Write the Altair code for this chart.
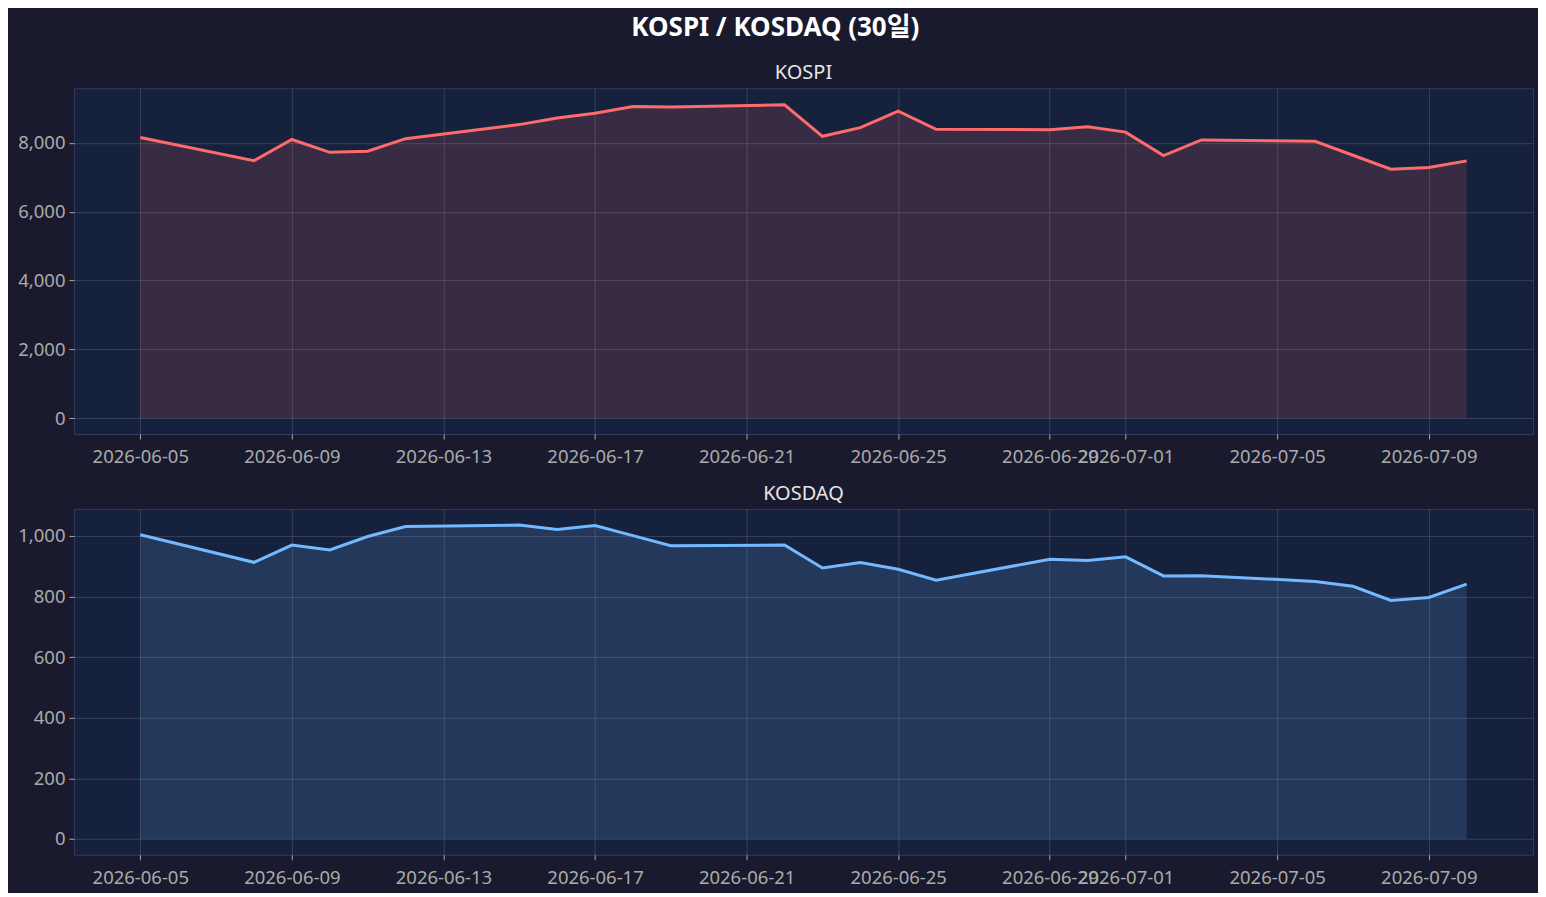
import altair as alt
import pandas as pd

dates = [
    "2026-06-05", "2026-06-08", "2026-06-09", "2026-06-10", "2026-06-11", "2026-06-12",
    "2026-06-15", "2026-06-16", "2026-06-17", "2026-06-18", "2026-06-19",
    "2026-06-22", "2026-06-23", "2026-06-24", "2026-06-25", "2026-06-26",
    "2026-06-29", "2026-06-30", "2026-07-01", "2026-07-02", "2026-07-03",
    "2026-07-06", "2026-07-07", "2026-07-08", "2026-07-09", "2026-07-10",
]
kospi = [
    8160, 7485, 8100, 7728, 7758, 8125,
    8533, 8727, 8863, 9060, 9047,
    9110, 8193, 8445, 8925, 8395,
    8387, 8470, 8315, 7633, 8087,
    8049, 7642, 7238, 7284, 7479,
]
kosdaq = [
    1004, 913, 970, 954, 998, 1031,
    1036, 1021, 1034, 1001, 968,
    970, 894, 912, 890, 854,
    923, 919, 931, 868, 869,
    850, 834, 787, 797, 841,
]
tick_days = [(6, 5), (6, 9), (6, 13), (6, 17), (6, 21), (6, 25), (6, 29), (7, 1), (7, 5), (7, 9)]
kospi_ticks = [0, 2000, 4000, 6000, 8000]
kosdaq_ticks = [0, 200, 400, 600, 800, 1000]

df = pd.DataFrame({"date": dates, "KOSPI": kospi, "KOSDAQ": kosdaq})

FONT = "'Noto Sans', 'Noto Sans CJK KR', sans-serif"
xdom = [
    alt.DateTime(year=2026, month=6, date=3, hours=6, utc=True),
    alt.DateTime(year=2026, month=7, date=11, hours=18, utc=True),
]
xvals = [alt.DateTime(year=2026, month=m, date=d, utc=True) for m, d in tick_days]


def panel(field, color, ydom, yvals, title):
    base = alt.Chart(df).encode(
        x=alt.X(
            "date:T",
            scale=alt.Scale(type="utc", domain=xdom),
            axis=alt.Axis(values=xvals, labelExpr="utcFormat(datum.value, '%Y-%m-%d')",
                          title=None, labelAngle=0, labelOverlap=False, labelPadding=9),
        )
    )
    y = alt.Y(
        f"{field}:Q",
        scale=alt.Scale(domain=ydom, nice=False, zero=False),
        axis=alt.Axis(values=yvals, format=",d", title=None, labelPadding=4),
    )
    area = base.mark_area(color=color, opacity=0.15).encode(y=y, y2=alt.datum(0))
    line = base.mark_line(color=color, strokeWidth=3).encode(y=y)
    return alt.layer(area, line).properties(
        width=1460,
        height=346,
        title=alt.TitleParams(title, fontSize=20, font=FONT, fontWeight="normal",
                              color="#e6e6e6", offset=5),
    )


top = panel("KOSPI", "#ff6b6b", [-460, 9590], kospi_ticks, "KOSPI")
bottom = panel("KOSDAQ", "#74b9ff", [-52, 1089], kosdaq_ticks, "KOSDAQ")

chart = (
    alt.vconcat(top, bottom, spacing=16)
    .properties(
        title=alt.TitleParams("KOSPI / KOSDAQ (30일)", fontSize=26, font=FONT,
                              fontWeight="bold", color="#ffffff", anchor="middle", offset=22),
        padding={"left": 9, "top": 6, "right": 4, "bottom": 5},
    )
    .configure(background="#1a1a2e")
    .configure_view(fill="#16213e", stroke="#33395a", strokeWidth=1)
    .configure_axis(
        gridColor="#ffffff",
        gridOpacity=0.15,
        domain=False,
        labelColor="#aaaaaa",
        tickColor="#aaaaaa",
        labelFont=FONT,
        labelFontSize=18.5,
        tickSize=5,
    )
)

chart.save("out.html", embed_options={"renderer": "svg", "actions": False})
